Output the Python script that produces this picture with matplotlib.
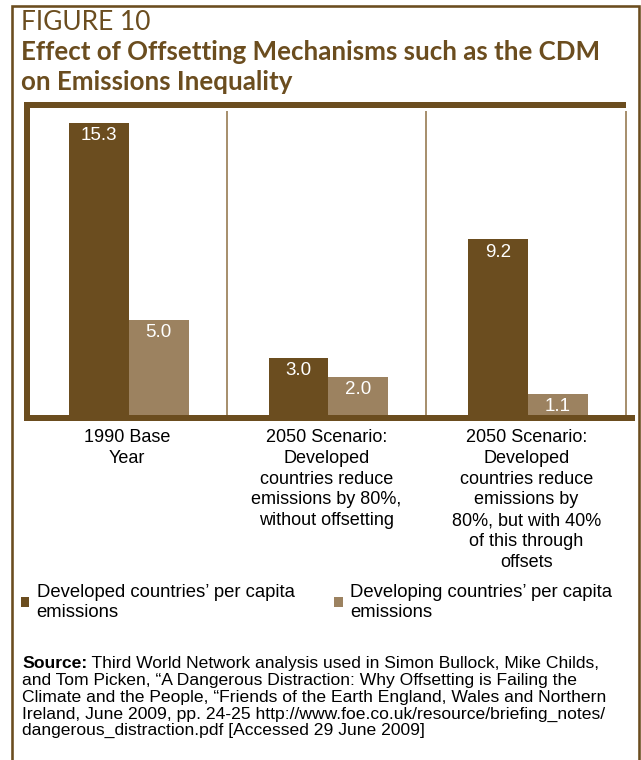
import matplotlib.pyplot as plt
from matplotlib.lines import Line2D
from matplotlib.patches import Patch

categories = [
    "1990 Base\nYear",
    "2050 Scenario:\nDeveloped\ncountries reduce\nemissions by 80%,\nwithout offsetting",
    "2050 Scenario:\nDeveloped\ncountries reduce\nemissions by\n80%, but with 40%\nof this through\noffsets",
]
developed = [15.3, 3.0, 9.2]
developing = [5.0, 2.0, 1.1]
series_names = [
    "Developed countries\u2019 per capita\nemissions",
    "Developing countries\u2019 per capita\nemissions",
]

DARK = "#6b4d1f"
LIGHT = "#9c8260"
TAN = "#a8916f"
BODY = "Liberation Sans"

W, H = 641, 760
PT = 72 / 100  # points per pixel at dpi 100


def fx(px):
    return px / W


def fy(py):
    return 1 - py / H


fig = plt.figure(figsize=(W / 100, H / 100), dpi=100)

# outer frame, open at the bottom
fig.add_artist(Line2D([fx(12), fx(12), fx(638.5), fx(638.5)],
                      [0, fy(5.5), fy(5.5), 0],
                      transform=fig.transFigure, color=DARK, lw=2.6 * PT,
                      solid_joinstyle="miter"))

fig.text(fx(21), fy(30), "FIGURE 10", family="Lato", fontsize=19,
         color=DARK, va="baseline")
fig.text(fx(21), fy(60), "Effect of Offsetting Mechanisms such as the CDM",
         family="Lato", weight="bold", fontsize=18.6, color=DARK, va="baseline")
fig.text(fx(21), fy(90), "on Emissions Inequality",
         family="Lato", weight="bold", fontsize=18.6, color=DARK, va="baseline")

# plotting area
ax = fig.add_axes([fx(27), fy(415), fx(626) - fx(27), fy(105) - fy(415)])
ax.set_xlim(0, 3)
ax.set_ylim(0, 310 / 19.1)
ax.axis("off")

x = [i + 0.5 for i in range(len(categories))]
bw = 0.3
b1 = ax.bar([v - bw / 2 + 0.01 for v in x], developed, bw, color=DARK)
b2 = ax.bar([v + bw / 2 + 0.01 for v in x], developing, bw, color=LIGHT)

for bars, vals in [(b1, developed), (b2, developing)]:
    for r, v in zip(bars, vals):
        ax.annotate(f"{v:.1f}", (r.get_x() + r.get_width() / 2, v),
                    xytext=(0, -13 * PT), textcoords="offset points",
                    ha="center", va="center", color="white",
                    family=BODY, fontsize=13.5)

# frame pieces of the plotting area
tr = ax.transAxes
ax.plot([-0.005, 1.0], [1, 1], transform=tr, color=DARK, lw=6 * PT,
        clip_on=False, solid_capstyle="butt")
ax.plot([0, 0], [1, -0.019], transform=tr, color=DARK, lw=6 * PT,
        clip_on=False, solid_capstyle="butt")
ax.plot([-0.005, 1.015], [-0.0097, -0.0097], transform=tr, color=DARK,
        lw=6 * PT, clip_on=False, solid_capstyle="butt")
for i in range(1, 4):
    ax.plot([i / 3, i / 3], [0.98, -0.019], transform=tr, color=TAN,
            lw=2 * PT, clip_on=False, solid_capstyle="butt", zorder=0)

for xi, lab in zip(x, categories):
    ax.annotate(lab, (xi, 0), xytext=(0, -14 * PT), textcoords="offset points",
                ha="center", va="top", family=BODY, fontsize=13,
                linespacing=1.29)

fig.legend(handles=[Patch(facecolor=DARK), Patch(facecolor=LIGHT)],
           labels=series_names, ncol=2, loc="upper left",
           bbox_to_anchor=(fx(21), fy(584)), frameon=False, borderpad=0,
           borderaxespad=0, handlelength=0.45, handleheight=0.45,
           handletextpad=0.4, columnspacing=2.15,
           prop=dict(family=BODY, size=13.3))

# source note
src_first = " Third World Network analysis used in Simon Bullock, Mike Childs,"
src_rest = ("and Tom Picken, \u201cA Dangerous Distraction: Why Offsetting is Failing the\n"
            "Climate and the People, \u201cFriends of the Earth England, Wales and Northern\n"
            "Ireland, June 2009, pp. 24-25 http://www.foe.co.uk/resource/briefing_notes/\n"
            "dangerous_distraction.pdf [Accessed 29 June 2009]")
FS = 12.6
s = fig.text(fx(22), fy(668), "Source:", family=BODY, weight="bold",
             fontsize=FS, va="baseline")
rend = fig.canvas.get_renderer()
ext = s.get_window_extent(rend)
fig.text(ext.x1 / W, fy(668), src_first, family=BODY, fontsize=FS,
         va="baseline")
fig.text(fx(22), fy(673), src_rest, family=BODY, fontsize=FS, va="top",
         linespacing=1.14)

fig.savefig("out.png", dpi=100)
